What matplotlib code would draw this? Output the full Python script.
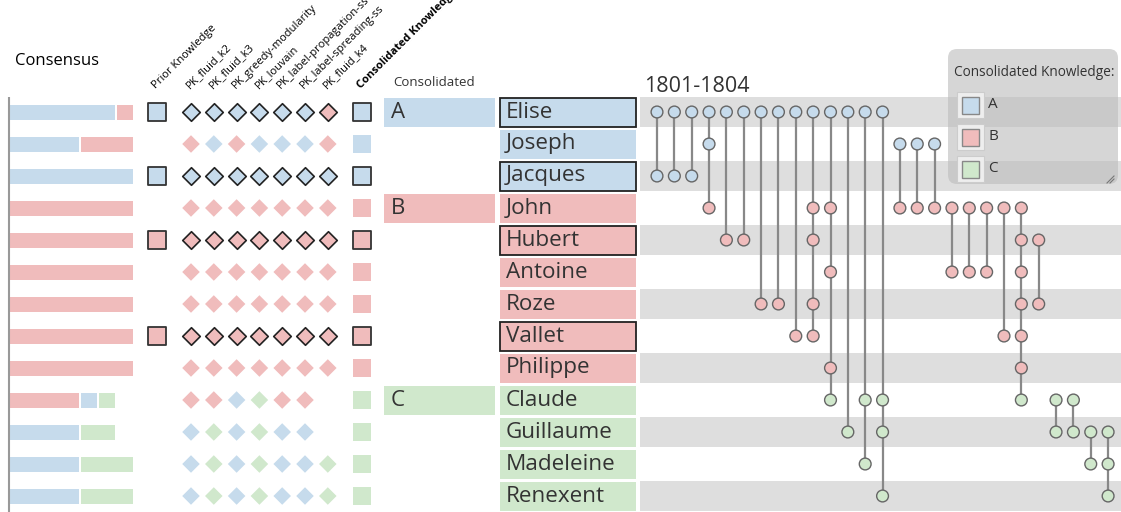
import numpy as np
import matplotlib.pyplot as plt
from matplotlib.patches import FancyBboxPatch, Rectangle

# === Data ===
names = ["Elise", "Joseph", "Jacques", "John", "Hubert", "Antoine", "Roze",
         "Vallet", "Philippe", "Claude", "Guillaume", "Madeleine", "Renexent"]
consolidated = ["A", "A", "A", "B", "B", "B", "B", "B", "B", "C", "C", "C", "C"]
prior = ["A", None, "A", None, "B", None, None, "B", None, None, None, None, None]
method_names = ["PK_fluid_k2", "PK_fluid_k3", "PK_greedy-modularity", "PK_louvain",
                "PK_label-propagation-ss", "PK_label-spreading-ss", "PK_fluid_k4"]
# one letter per method, '-' = no assignment
methods = ["AAAAAAB", "BABAAAB", "AAAAAAA",
           "BBBBBBB", "BBBBBBB", "BBBBBBB", "BBBBBBB", "BBBBBBB", "BBBBBBB",
           "BBACBB-", "ACACAA-", "ACACAAC", "ACACAAC"]
year_label = "1801-1804"
# rows attending each event (columns of the matrix)
events = [[0, 2], [0, 2], [0, 2], [0, 1, 3], [0, 4], [0, 4], [0, 6], [0, 6], [0, 7],
          [0, 3, 4, 6, 7], [0, 3, 5, 8, 9], [0, 10], [0, 9, 11], [0, 9, 10, 12],
          [1, 3], [1, 3], [1, 3], [3, 5], [3, 5], [3, 5], [3, 7],
          [3, 4, 5, 6, 7, 8, 9], [4, 6], [9, 10], [9, 10], [10, 11], [10, 11, 12]]
groups = ["A", "B", "C"]

# === Style / layout ===
colors = {"A": "#c6dbec", "B": "#f0bcbc", "C": "#d0e8cc"}
txt = "#333333"
fam = ["Open Sans", "DejaVu Sans"]
row0, row_h = 112, 32
row_y = [row0 + i * row_h for i in range(len(names))]

fig = plt.figure(figsize=(11.21, 5.12), dpi=100)
ax = fig.add_axes([0, 0, 1, 1])
ax.set_xlim(0, 1121)
ax.set_ylim(512, 0)
ax.axis("off")

# === Headers ===
ax.text(15, 61, "Consensus", fontsize=12, color="black", family=fam, va="center")
ax.text(393, 82, "Consolidated", fontsize=9.5, color=txt, family=fam, va="center")
ax.text(644, 87, year_label, fontsize=15.5, color=txt, family=fam, va="center")

prior_x = 157
meth_x = [191 + 22.8 * k for k in range(len(method_names))]
cons_x = 362
head_x = [prior_x] + meth_x + [cons_x]
head_lbl = ["Prior Knowledge"] + method_names + ["Consolidated Knowledge"]
for k, (hx, hl) in enumerate(zip(head_x, head_lbl)):
    ax.text(hx + 1, 91, hl, rotation=45, rotation_mode="anchor", ha="left", va="bottom",
            fontsize=8.0, color="black", family=fam,
            fontweight="bold" if k == len(head_lbl) - 1 else "normal")

# === Consensus bars ===
ax.vlines(9, 97, 512, color="#999999", lw=1.5)
bar_len, gap = 125, 2
for i, row in enumerate(methods):
    counts = {g: row.count(g) for g in groups}
    left = 10
    for g in sorted(groups, key=lambda g: -counts[g]):
        if counts[g] == 0:
            continue
        w = counts[g] / len(method_names) * bar_len
        ax.barh(row_y[i], w - gap, left=left, height=15, color=colors[g], linewidth=0)
        left += w

# === Prior knowledge / methods / consolidated markers ===
for i, row in enumerate(methods):
    has_pk = prior[i] is not None
    ec = "#222222" if has_pk else "none"
    if has_pk:
        ax.scatter(prior_x, row_y[i], marker="s", s=150, color=colors[prior[i]],
                   edgecolor="#333333", linewidth=1.3, zorder=3)
    for k, g in enumerate(row):
        if g == "-":
            continue
        ax.scatter(meth_x[k], row_y[i], marker="D", s=80, color=colors[g],
                   edgecolor=ec, linewidth=1.2, zorder=3)
    ax.scatter(cons_x, row_y[i], marker="s", s=150, color=colors[consolidated[i]],
               edgecolor="#333333" if has_pk else "none", linewidth=1.3, zorder=3)

# === Consolidated group labels and names ===
for i, g in enumerate(consolidated):
    if i == 0 or consolidated[i - 1] != g:
        ax.barh(row_y[i], 111, left=384, height=29, color=colors[g], linewidth=0)
        ax.text(391, row_y[i], g, fontsize=16, color=txt, family=fam, va="center")
    has_pk = prior[i] is not None
    ax.barh(row_y[i], 136, left=500, height=29, color=colors[g],
            edgecolor="#222222" if has_pk else "none", linewidth=1.3 if has_pk else 0)
    ax.text(506, row_y[i], names[i], fontsize=16.2, color=txt, family=fam, va="center")

# === Matrix ===
for i in range(0, len(names), 2):
    ax.barh(row_y[i], 481, left=640, height=30, color="#dedede", linewidth=0, zorder=0)

col_x = [657 + 17.35 * j for j in range(len(events))]
for j, rows in enumerate(events):
    ys = [row_y[r] for r in rows]
    ax.vlines(col_x[j], min(ys), max(ys), color="#888888", lw=1.6, zorder=1)
    ax.scatter([col_x[j]] * len(rows), ys, s=72,
               color=[colors[consolidated[r]] for r in rows],
               edgecolor="#666666", linewidth=1.0, zorder=2)

# === Legend ===
box = FancyBboxPatch((952, 53), 162, 127, boxstyle="round,pad=4,rounding_size=9",
                     facecolor=(0.74, 0.74, 0.74, 0.62), edgecolor="none", zorder=5)
ax.add_patch(box)
ax.text(954, 72, "Consolidated Knowledge:", fontsize=9.8, color=txt, family=fam,
        va="center", zorder=6)
for k, g in enumerate(groups):
    yc = 105 + 32 * k
    ax.add_patch(Rectangle((957, yc - 13), 27, 26, facecolor="#eeeeee",
                           edgecolor="#cccccc", lw=0.8, zorder=6))
    ax.add_patch(Rectangle((962, yc - 8.5), 17, 17, facecolor=colors[g],
                           edgecolor="#888888", lw=1.0, zorder=7))
    ax.text(988, yc, g, fontsize=11, color=txt, family=fam, va="center", zorder=7)
ax.plot([1107, 1114], [183, 176], color="#777777", lw=0.8, zorder=7)
ax.plot([1110, 1114], [183, 179], color="#777777", lw=0.8, zorder=7)

plt.savefig("out.png", dpi=100)
